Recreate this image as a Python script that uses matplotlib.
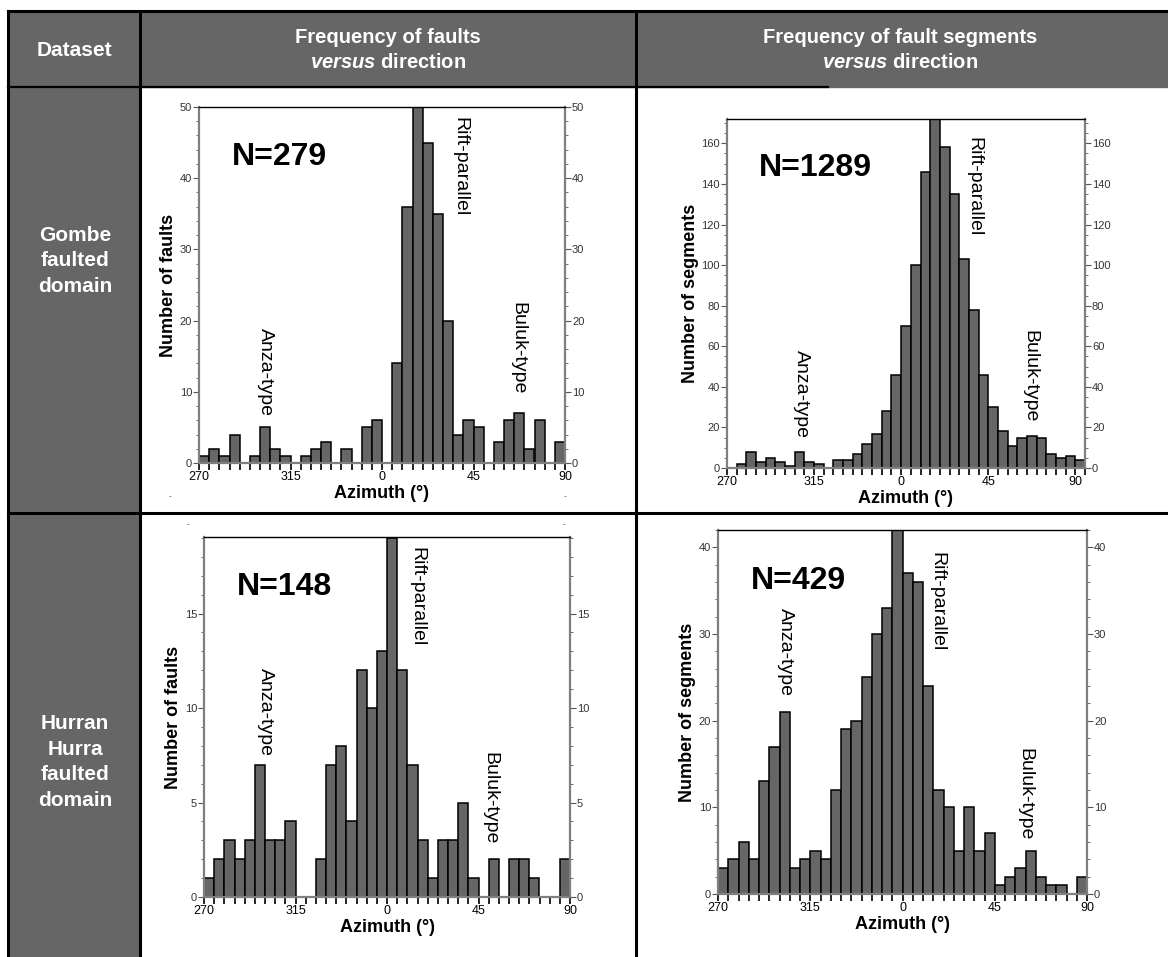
import numpy as np
import matplotlib
matplotlib.use('Agg')
import matplotlib.pyplot as plt
from matplotlib.ticker import MultipleLocator, FixedLocator, FixedFormatter
from matplotlib.patches import Rectangle

plt.rcParams['font.family'] = ['Liberation Sans', 'DejaVu Sans']
plt.rcParams['mathtext.fontset'] = 'custom'
plt.rcParams['mathtext.it'] = 'Liberation Sans:bold:italic'
plt.rcParams['mathtext.rm'] = 'Liberation Sans:bold'

W, H = 1168, 957
GRAY = '#666666'

# bin counts, 5 degree bins starting at azimuth 270 (= -90)
gombe_faults = [1, 2, 1, 4, 0, 1, 5, 2, 1, 0, 1, 2, 3, 0, 2, 0, 5, 6,
                0, 14, 36, 50, 45, 35, 20, 4, 6, 5, 0, 3, 6, 7, 2, 6, 0, 3]
gombe_segments = [0, 2, 8, 3, 5, 3, 1, 8, 3, 2, 0, 4, 4, 7, 12, 17, 28, 46,
                  70, 100, 146, 173, 158, 135, 103, 78, 46, 30, 18, 11, 15, 16, 15, 7,
                  5, 6, 4]
hurra_faults = [1, 2, 3, 2, 3, 7, 3, 3, 4, 0, 0, 2, 7, 8, 4, 12, 10, 13,
                19, 12, 7, 3, 1, 3, 3, 5, 1, 0, 2, 0, 2, 2, 1, 0, 0, 2]
hurra_segments = [3, 4, 6, 4, 13, 17, 21, 3, 4, 5, 4, 12, 19, 20, 25, 30, 33, 42,
                  37, 36, 24, 12, 10, 5, 10, 5, 7, 1, 2, 3, 5, 2, 1, 1, 0, 2]

az_ticks = [-90, -45, 0, 45, 90]
az_labels = ['270', '315', '0', '45', '90']

headers = ['Dataset', 'Frequency of faults\n$\\it{versus}$ direction',
           'Frequency of fault segments\n$\\it{versus}$ direction']
datasets = ['Gombe\nfaulted\ndomain', 'Hurran\nHurra\nfaulted\ndomain']


def px_axes(fig, l, t, r, b):
    return fig.add_axes([l / W, 1 - b / H, (r - l) / W, (b - t) / H])


def histo(ax, counts, ymax, major, minor, ylabel, n_text, xmax=90):
    edges = np.arange(-90, -90 + 5 * len(counts), 5)
    ax.bar(edges, counts, width=5, align='edge', color=GRAY,
           edgecolor='black', linewidth=1.1, zorder=2)
    ax.set_xlim(-90, xmax)
    ax.set_ylim(0, ymax)
    ax.xaxis.set_major_locator(FixedLocator(az_ticks))
    ax.xaxis.set_major_formatter(FixedFormatter(az_labels))
    ax.xaxis.set_minor_locator(MultipleLocator(5))
    ax.yaxis.set_major_locator(MultipleLocator(major))
    ax.yaxis.set_minor_locator(MultipleLocator(minor))
    ax.tick_params(axis='x', which='both', direction='out', length=5,
                   width=1.2, color='black', labelsize=9, pad=1)
    ax.tick_params(axis='y', which='both', direction='out', color='#555555',
                   labelsize=8, labelcolor='#333333', left=True, right=True,
                   labelleft=True, labelright=True, pad=1)
    ax.tick_params(axis='y', which='major', length=4)
    ax.tick_params(axis='y', which='minor', length=2)
    for s in ['left', 'right', 'bottom']:
        ax.spines[s].set_color('#7f7f7f')
        ax.spines[s].set_linewidth(1.6)
    ax.spines['top'].set_linewidth(1.0)
    ax.set_xlabel('Azimuth (°)', fontsize=13, fontweight='bold', labelpad=1)
    ax.set_ylabel(ylabel, fontsize=13, fontweight='bold', labelpad=2)
    ax.text(0.09, 0.86, n_text, transform=ax.transAxes, fontsize=23,
            fontweight='bold', va='center', ha='left')


fig = plt.figure(figsize=(W / 100, H / 100), dpi=100)

# table background
bg = fig.add_axes([0, 0, 1, 1])
bg.set_xlim(0, W)
bg.set_ylim(H, 0)
bg.axis('off')
bg.add_patch(Rectangle((8, 11), W - 8, 76, color=GRAY, zorder=0))
bg.add_patch(Rectangle((8, 11), 132, H - 11, color=GRAY, zorder=0))
for x in [8, 140, 636]:
    bg.plot([x, x], [11, H], color='black', lw=2.2)
bg.plot([8, W], [11, 11], color='black', lw=2.2)
bg.plot([8, 828], [87, 87], color='black', lw=1.6)
bg.plot([8, W], [513, 513], color='black', lw=2.2)

bg.text(74, 51, headers[0], color='white', fontsize=15, fontweight='bold',
        ha='center', va='center')
bg.text(388, 50, headers[1], color='white', fontsize=14.5, fontweight='bold',
        ha='center', va='center', linespacing=1.45)
bg.text(900, 50, headers[2], color='white', fontsize=14.5, fontweight='bold',
        ha='center', va='center', linespacing=1.45)
bg.text(75, 261, datasets[0], color='white', fontsize=15, fontweight='bold',
        ha='center', va='center', linespacing=1.45)
bg.text(75, 762, datasets[1], color='white', fontsize=15, fontweight='bold',
        ha='center', va='center', linespacing=1.45)

# stray marks from the original figure
for x, y in [(170, 497), (565, 497), (188, 525), (564, 525)]:
    bg.text(x, y, '-', fontsize=6, color='#444444', ha='center', va='center')

# Gombe, faults
ax1 = px_axes(fig, 199, 107, 565, 463)
histo(ax1, gombe_faults, 50, 10, 2, 'Number of faults', 'N=279')

# Gombe, segments
ax2 = px_axes(fig, 727, 119, 1085, 468)
histo(ax2, gombe_segments, 172, 20, 5, 'Number of segments', 'N=1289', xmax=95)

# Hurran Hurra, faults
ax3 = px_axes(fig, 204, 537, 570, 897)
histo(ax3, hurra_faults, 19.05, 5, 1, 'Number of faults', 'N=148')

# Hurran Hurra, segments
ax4 = px_axes(fig, 718, 530, 1087, 894)
histo(ax4, hurra_segments, 42, 10, 2, 'Number of segments', 'N=429')

# group labels (pixel positions of their top ends)
notes = [(460, 117, 'Rift-parallel'), (265, 328, 'Anza-type'), (518, 302, 'Buluk-type'),
         (974, 137, 'Rift-parallel'), (801, 350, 'Anza-type'), (1030, 330, 'Buluk-type'),
         (417, 547, 'Rift-parallel'), (265, 668, 'Anza-type'), (490, 752, 'Buluk-type'),
         (937, 552, 'Rift-parallel'), (785, 608, 'Anza-type'), (1025, 748, 'Buluk-type')]
for x, y, s in notes:
    fig.text(x / W, 1 - y / H, s, rotation=-90, fontsize=14, ha='center',
             va='top', zorder=5)

fig.savefig('out.png', dpi=100)
